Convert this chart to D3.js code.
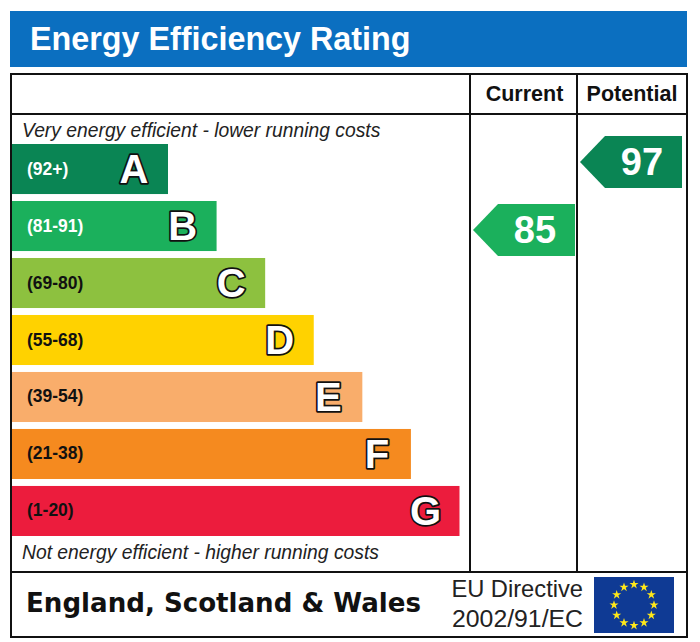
<!DOCTYPE html>
<html>
<head>
<meta charset="utf-8">
<script src="https://cdn.jsdelivr.net/npm/d3@7"></script>
<style>
  html, body { margin: 0; padding: 0; background: #fff; }
  svg { display: block; }
  text { font-family: "Liberation Sans", Arial, sans-serif; }
</style>
</head>
<body>
<div class="chart"></div>
<script>
// 차트 데이터
const bands = ['A', 'B', 'C', 'D', 'E', 'F', 'G'];
const ranges = ['(92+)', '(81-91)', '(69-80)', '(55-68)', '(39-54)', '(21-38)', '(1-20)'];
const bandColors = ['#0a8554', '#1bb05c', '#8dc13f', '#ffd200', '#f9ad6b', '#f58a1f', '#ec1c3d'];
const rangeColors = ['#fff', '#fff', '#111', '#111', '#111', '#111', '#111'];
const columns = ['Current', 'Potential'];
const ratings = [85, 97];
const ratingBands = ['B', 'A'];

const title = 'Energy Efficiency Rating';
const topNote = 'Very energy efficient - lower running costs';
const bottomNote = 'Not energy efficient - higher running costs';
const region = 'England, Scotland & Wales';
const directive = ['EU Directive', '2002/91/EC'];

const W = 700, H = 642;
const frame = {left: 11, right: 687, top: 74, bottom: 637};
const headerY = 114, footerY = 572;

const svg = d3.select('.chart').append('svg')
  .attr('width', W)
  .attr('height', H)
  .attr('viewBox', [0, 0, W, H]);

/******************** 스케일 ********************/
const yBand = d3.scaleBand().domain(bands).range([144, 536]).paddingInner(0.122).paddingOuter(0);
const barEnd = d3.scaleLinear().domain([0, bands.length - 1]).range([168, 459.5]);
const xCol = d3.scaleOrdinal().domain(columns).range([470, 577]);
const yRating = d3.scaleLinear().domain([97, 85]).range([162, 230]);

/******************** 제목 ********************/
svg.append('rect')
  .attr('x', 10).attr('y', 11).attr('width', 677).attr('height', 56)
  .attr('fill', '#0b6fc0');
svg.append('text')
  .attr('x', 30).attr('y', 50)
  .attr('font-size', 32.3).attr('font-weight', 'bold').attr('fill', '#fff')
  .text(title);

/******************** 등급 막대 ********************/
const row = svg.append('g').selectAll('g')
  .data(bands)
  .join('g');

row.append('rect')
  .attr('x', 12)
  .attr('y', d => yBand(d))
  .attr('width', (d, i) => barEnd(i) - 12)
  .attr('height', yBand.bandwidth())
  .attr('fill', (d, i) => bandColors[i]);

row.append('text')
  .attr('x', 27)
  .attr('y', d => yBand(d) + yBand.bandwidth() / 2 + 5.5)
  .attr('font-size', 17.5).attr('font-weight', 'bold')
  .attr('fill', (d, i) => rangeColors[i])
  .text((d, i) => ranges[i]);

row.append('text')
  .attr('x', (d, i) => barEnd(i) - 34)
  .attr('y', d => yBand(d) + yBand.bandwidth() / 2 + 14)
  .attr('text-anchor', 'middle')
  .attr('font-size', 40).attr('font-weight', 'bold')
  .attr('fill', '#fff').attr('stroke', '#111').attr('stroke-width', 3.5)
  .attr('paint-order', 'stroke')
  .attr('stroke-linejoin', 'round')
  .text(d => d);

/******************** 안내 문구 ********************/
svg.append('text')
  .attr('x', 22).attr('y', 136.5)
  .attr('font-size', 19.3).attr('font-style', 'italic').attr('fill', '#222')
  .text(topNote);
svg.append('text')
  .attr('x', 22).attr('y', 559)
  .attr('font-size', 19.3).attr('font-style', 'italic').attr('fill', '#222')
  .text(bottomNote);

/******************** 현재 / 잠재 화살표 ********************/
const arrow = d3.line();
const arrows = svg.append('g').selectAll('g')
  .data(columns)
  .join('g')
    .attr('transform', (d, i) => `translate(${xCol(d)},${yRating(ratings[i])})`);

arrows.append('path')
  .attr('d', arrow([[3, 0], [28, -26], [105, -26], [105, 26], [28, 26]]) + 'Z')
  .attr('fill', (d, i) => bandColors[bands.indexOf(ratingBands[i])]);

arrows.append('text')
  .attr('x', 65).attr('y', 13)
  .attr('text-anchor', 'middle')
  .attr('font-size', 38).attr('font-weight', 'bold').attr('fill', '#fff')
  .text((d, i) => ratings[i]);

/******************** 표 테두리 ********************/
const lines = svg.append('g').attr('stroke', '#111').attr('stroke-width', 2).attr('fill', 'none');
lines.append('rect')
  .attr('x', frame.left).attr('y', frame.top)
  .attr('width', frame.right - frame.left).attr('height', frame.bottom - frame.top);
lines.selectAll('line.row')
  .data([headerY, footerY])
  .join('line')
    .attr('class', 'row')
    .attr('x1', frame.left).attr('x2', frame.right)
    .attr('y1', d => d).attr('y2', d => d);
lines.selectAll('line.col')
  .data(columns)
  .join('line')
    .attr('class', 'col')
    .attr('x1', d => xCol(d)).attr('x2', d => xCol(d))
    .attr('y1', frame.top).attr('y2', footerY);

svg.append('g').selectAll('text')
  .data(columns)
  .join('text')
    .attr('x', (d, i) => i ? 632 : 524.5)
    .attr('y', 101)
    .attr('text-anchor', 'middle')
    .attr('font-size', 21.5).attr('font-weight', 'bold').attr('fill', '#111')
    .text(d => d);

/******************** 하단 ********************/
svg.append('text')
  .attr('x', 26).attr('y', 612)
  .attr('font-size', 26.1).attr('font-weight', 'bold').attr('fill', '#111')
  .style('font-family', '"DejaVu Sans", Verdana, sans-serif')
  .text(region);

svg.append('g').selectAll('text')
  .data(directive)
  .join('text')
    .attr('x', 583)
    .attr('y', (d, i) => 597 + i * 30)
    .attr('text-anchor', 'end')
    .attr('font-size', (d, i) => i ? 24.8 : 23.7).attr('fill', '#222')
    .text(d => d);

// EU 깃발
const flag = {x: 594, y: 577, w: 80, h: 56};
svg.append('rect')
  .attr('x', flag.x).attr('y', flag.y).attr('width', flag.w).attr('height', flag.h)
  .attr('fill', '#0f3a94');
const star = d3.symbol().type(d3.symbolStar).size(26);
svg.append('g').selectAll('path')
  .data(d3.range(12))
  .join('path')
    .attr('d', star)
    .attr('fill', '#ffe81a')
    .attr('transform', d => {
      const a = d / 12 * 2 * Math.PI;
      return `translate(${flag.x + flag.w / 2 + 20 * Math.sin(a)},${flag.y + flag.h / 2 - 20.5 * Math.cos(a)})`;
    });
</script>
</body>
</html>
